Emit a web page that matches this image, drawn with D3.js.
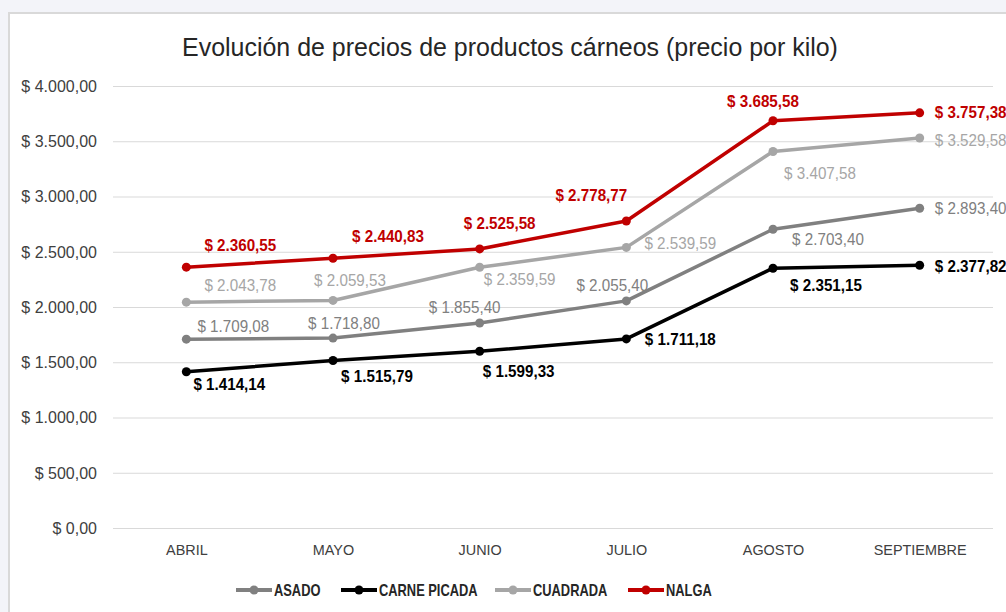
<!doctype html>
<html lang="es">
<head>
  <meta charset="utf-8">
  <style>
    body { margin: 0; background-color: #f3f4f9; }
    svg { display: block; }
    .grid line { stroke: #d9d9d9; stroke-width: 1px; }
    .axis text { font-family: "Liberation Sans", Arial, sans-serif; fill: #404040; }
    .lbl { font-family: "Liberation Sans", Arial, sans-serif; font-size: 16px; }
  </style>
</head>
<body>
<script src="https://d3js.org/d3.v7.min.js"></script>
<script>
var width = 1006,
    height = 612;

// data
var months = ["ABRIL", "MAYO", "JUNIO", "JULIO", "AGOSTO", "SEPTIEMBRE"];
var seriesNames = ["ASADO", "CARNE PICADA", "CUADRADA", "NALGA"];
var asado = [1709.08, 1718.80, 1855.40, 2055.40, 2703.40, 2893.40];
var carnePicada = [1414.14, 1515.79, 1599.33, 1711.18, 2351.15, 2377.82];
var cuadrada = [2043.78, 2059.53, 2359.59, 2539.59, 3407.58, 3529.58];
var nalga = [2360.55, 2440.83, 2525.58, 2778.77, 3685.58, 3757.38];
var yTicks = [0, 500, 1000, 1500, 2000, 2500, 3000, 3500, 4000];

// look of each series (colour, bold labels, label offsets from the point)
var colors = ["#808080", "#000000", "#a6a6a6", "#c00000"];
var boldLabels = [false, true, false, true];
var labelOffsets = [
  [[47, -13], [11, -15], [-15, -16], [-14, -15], [55, 10], [51, 0]],
  [[43, 13], [44, 16], [39, 20], [54, 0], [53, 17], [51, 1]],
  [[54, -17], [17, -20], [40, 12], [54, -4], [47, 22], [51, 2]],
  [[54, -22], [55, -22], [20, -26], [-35, -26], [-10, -19], [51, 0]]
];

var series = [asado, carnePicada, cuadrada, nalga].map(function(values, i) {
  return { name: seriesNames[i], values: values, color: colors[i], bold: boldLabels[i], offsets: labelOffsets[i] };
});

var es = d3.formatLocale({ decimal: ",", thousands: ".", grouping: [3], currency: ["$ ", ""] });
var money = es.format("$,.2f");

// narrow the text a bit (the original font is condensed)
function squash(sel, k) {
  sel.each(function() {
    var t = d3.select(this);
    var tx = +t.attr("x") || 0, ty = +t.attr("y") || 0;
    t.attr("x", 0).attr("y", 0)
      .attr("transform", "translate(" + tx + "," + ty + ") scale(" + k + ",1)");
  });
}

var svg = d3.select("body").append("svg")
  .attr("width", width)
  .attr("height", height);

// chart frame
svg.append("rect")
  .attr("x", 9).attr("y", 13)
  .attr("width", 1100).attr("height", 700)
  .attr("fill", "white")
  .attr("stroke", "#d9d9d9")
  .attr("stroke-width", 2);

var x = d3.scalePoint().domain(months).range([113, 993]).padding(0.5);
var y = d3.scaleLinear().domain([0, 4000]).range([528, 86]);

// title
svg.append("text")
  .attr("x", 510).attr("y", 56)
  .attr("text-anchor", "middle")
  .style("font-family", "'Liberation Sans', Arial, sans-serif")
  .style("font-size", "26px")
  .style("fill", "#262626")
  .text("Evolución de precios de productos cárneos (precio por kilo)")
  .call(squash, 0.96);

// y axis + gridlines
var yAxis = svg.append("g")
  .attr("class", "axis grid")
  .attr("transform", "translate(113,0)")
  .call(d3.axisLeft(y).tickValues(yTicks).tickSize(-880).tickPadding(16).tickFormat(money));
yAxis.select(".domain").remove();
yAxis.selectAll("text").style("font-size", "16.5px").call(squash, 0.97);

// x axis
var xAxis = svg.append("g")
  .attr("class", "axis")
  .attr("transform", "translate(0,528)")
  .call(d3.axisBottom(x).tickSize(0).tickPadding(16));
xAxis.select(".domain").remove();
xAxis.selectAll("text").style("font-size", "15.5px").call(squash, 0.93);

var line = d3.line()
  .x(function(d, i) { return x(months[i]); })
  .y(function(d) { return y(d); });

var g = svg.selectAll(".series")
  .data(series)
  .enter().append("g")
  .attr("class", "series");

g.append("path")
  .attr("d", function(d) { return line(d.values); })
  .attr("fill", "none")
  .attr("stroke", function(d) { return d.color; })
  .attr("stroke-width", 3.5)
  .attr("stroke-linejoin", "round");

g.selectAll("circle")
  .data(function(d) { return d.values.map(function(v, i) { return { v: v, i: i, s: d }; }); })
  .enter().append("circle")
  .attr("cx", function(d) { return x(months[d.i]); })
  .attr("cy", function(d) { return y(d.v); })
  .attr("r", 4.5)
  .attr("fill", function(d) { return d.s.color; });

g.selectAll("text.lbl")
  .data(function(d) { return d.values.map(function(v, i) { return { v: v, i: i, s: d }; }); })
  .enter().append("text")
  .attr("class", "lbl")
  .attr("x", function(d) { return x(months[d.i]) + d.s.offsets[d.i][0]; })
  .attr("y", function(d) { return y(d.v) + d.s.offsets[d.i][1]; })
  .attr("dy", "0.35em")
  .attr("text-anchor", "middle")
  .style("font-weight", function(d) { return d.s.bold ? "bold" : "normal"; })
  .style("fill", function(d) { return d.s.color; })
  .text(function(d) { return money(d.v); })
  .call(squash, 0.95);

// legend
var legendX = [236, 341, 495, 628];
var legend = svg.selectAll(".legend")
  .data(series)
  .enter().append("g")
  .attr("class", "legend")
  .attr("transform", function(d, i) { return "translate(" + legendX[i] + ",590)"; });

legend.append("line")
  .attr("x1", 0).attr("x2", 36)
  .attr("stroke", function(d) { return d.color; })
  .attr("stroke-width", 4);
legend.append("circle")
  .attr("cx", 18).attr("r", 4.5)
  .attr("fill", function(d) { return d.color; });
legend.append("text")
  .attr("x", 38)
  .attr("dy", "0.36em")
  .style("font-family", "'Liberation Sans', Arial, sans-serif")
  .style("font-size", "16.5px")
  .style("font-weight", "bold")
  .style("fill", "#262626")
  .text(function(d) { return d.name; })
  .call(squash, 0.78);
</script>
</body>
</html>
